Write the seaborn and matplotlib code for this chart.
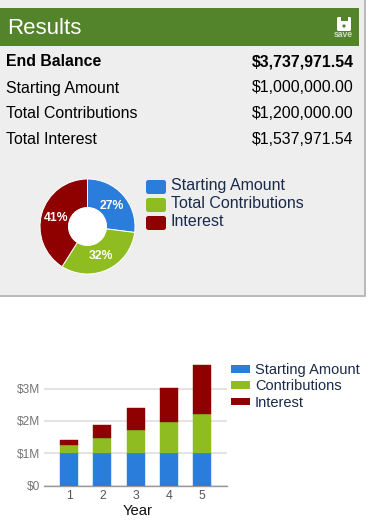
import numpy as np
import pandas as pd
import matplotlib
matplotlib.use("Agg")
import matplotlib.pyplot as plt
from matplotlib.patches import Rectangle, FancyBboxPatch, Circle
import seaborn as sns

W, H = 379, 525

summary_labels = ['End Balance', 'Starting Amount', 'Total Contributions', 'Total Interest']
summary_values = ['$3,737,971.54', '$1,000,000.00', '$1,200,000.00', '$1,537,971.54']

pie_labels = ['Starting Amount', 'Total Contributions', 'Interest']
pie_shares = [27, 32, 41]

years = [1, 2, 3, 4, 5]
starting = [1.0, 1.0, 1.0, 1.0, 1.0]
contributions = [0.24, 0.48, 0.72, 0.96, 1.20]
interest = [0.17, 0.40, 0.69, 1.07, 1.54]
bar_labels = ['Starting Amount', 'Contributions', 'Interest']
y_ticks = [0, 1, 2, 3]
y_tick_labels = ['$0', '$1M', '$2M', '$3M']

BLUE = '#2b7ddb'
GREEN = '#8fbc21'
RED = '#8f0000'
HEADER = '#53832a'
PANEL = '#eeeeee'
NAVY = '#1a2a4a'

sns.set_theme(style='white')
plt.rcParams['font.family'] = ['Liberation Sans', 'DejaVu Sans']

fig = plt.figure(figsize=(W / 100, H / 100), dpi=100, facecolor='white')


def px_axes(x0, y0, x1, y1):
    # axes placed with picture pixels, y counted from the top
    return fig.add_axes([x0 / W, 1 - y1 / H, (x1 - x0) / W, (y1 - y0) / H])


# page layer in pixel coordinates
page = fig.add_axes([0, 0, 1, 1])
page.set_xlim(0, W)
page.set_ylim(H, 0)
page.axis('off')

page.add_patch(Rectangle((0, 0), 364, 295, fc=PANEL, ec='none'))
page.plot([364.5, 364.5, 0], [0, 295.5, 295.5], color='#b9b9b9', lw=1.4)
page.add_patch(Rectangle((0, 8), 359, 38, fc=HEADER, ec='none'))
page.text(7, 26.5, 'Results', color='white', fontsize=16, va='center_baseline')

# save icon
page.add_patch(FancyBboxPatch((338, 18), 12, 12, boxstyle='round,pad=1,rounding_size=1.5', fc='white', ec='none'))
page.add_patch(Rectangle((340.5, 17), 7, 4, fc=HEADER, ec='none'))
page.add_patch(Circle((344, 26), 1.6, fc=HEADER, ec='none'))
page.text(343.5, 34.5, 'save', color='#d3e0c3', fontsize=6.2, ha='center', va='center', fontweight='bold')

for i, (lab, val) in enumerate(zip(summary_labels, summary_values)):
    y = 62 + i * 26
    weight = 'bold' if i == 0 else 'normal'
    page.text(6, y, lab, fontsize=11.4, color='black', va='center', fontweight=weight)
    page.text(353.5, y, val, fontsize=11.4, color='black', va='center', ha='right', fontweight=weight)

# donut
ax_pie = px_axes(40, 179, 135, 274)
ax_pie.pie(pie_shares, colors=[BLUE, GREEN, RED], startangle=90, counterclock=False, radius=1,
           wedgeprops=dict(width=0.6, edgecolor='white', linewidth=0.7))
ax_pie.add_patch(Circle((0, 0), 0.4, fc='white', ec='none'))
ax_pie.set_xlim(-1, 1)
ax_pie.set_ylim(-1, 1)
ax_pie.patch.set_alpha(0)
ax_pie.text(0.505, 0.43, '27%', color='white', fontsize=8.8, fontweight='bold', ha='center', va='center')
ax_pie.text(0.28, -0.63, '32%', color='white', fontsize=8.8, fontweight='bold', ha='center', va='center')
ax_pie.text(-0.65, 0.17, '41%', color='white', fontsize=8.8, fontweight='bold', ha='center', va='center')

for i, (lab, col) in enumerate(zip(pie_labels, [BLUE, GREEN, RED])):
    y = 187 + i * 18
    page.add_patch(FancyBboxPatch((147, y - 6), 18, 12, boxstyle='round,pad=1,rounding_size=2.5', fc=col, ec='none'))
    page.text(171, y - 1.5, lab, color=NAVY, fontsize=11.55, va='center')

# stacked bars
df = pd.DataFrame({'Year': years, 'Starting': starting, 'Contributions': contributions, 'Interest': interest})
ax = px_axes(44, 360, 227, 485.5)
ax.patch.set_alpha(0)
bottom = np.zeros(len(df))
for col, color in zip(['Starting', 'Contributions', 'Interest'], [BLUE, GREEN, RED]):
    sns.barplot(data=df, x='Year', y=col, bottom=bottom, color=color, saturation=1, width=0.54, ax=ax,
                edgecolor=color, linewidth=0.3, zorder=3)
    bottom = bottom + df[col].values

ax.set_xlim(-0.76, 4.75)
ax.set_ylim(0, 125.5 / 32.3)
ax.set_yticks(y_ticks)
ax.set_yticklabels(y_tick_labels, fontsize=8.6, color='#757575')
ax.tick_params(axis='x', labelsize=8.8, labelcolor='#555555', length=0, pad=3)
ax.tick_params(axis='y', length=0, pad=3)
ax.grid(axis='y', color='#dcdcdc', lw=1.1, zorder=0)
ax.set_axisbelow(True)
for side in ['top', 'right', 'left']:
    ax.spines[side].set_visible(False)
ax.spines['bottom'].set_color('#999999')
ax.spines['bottom'].set_linewidth(1)
ax.set_ylabel('')
ax.set_xlabel('Year', fontsize=10.7, color='#111111')
ax.xaxis.set_label_coords(0.514, -0.145)

handles = [Rectangle((0, 0), 1, 1, fc=c, ec='none') for c in [BLUE, GREEN, RED]]
fig.legend(handles, bar_labels, loc='upper left', bbox_to_anchor=(228 / W, 1 - 360.5 / H), frameon=False,
           fontsize=10.55, labelcolor=NAVY, handlelength=1.3, handleheight=0.41, handletextpad=0.35,
           labelspacing=0.14, borderpad=0.2, borderaxespad=0)

fig.savefig('out.png', dpi=100)
